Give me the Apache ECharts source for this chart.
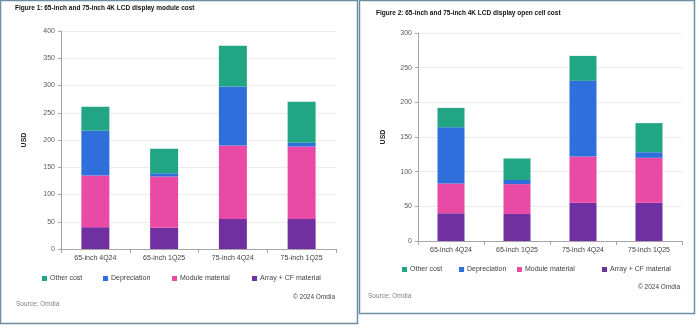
<!DOCTYPE html>
<html><head><meta charset="utf-8">
<script src="https://cdn.jsdelivr.net/npm/echarts@6/dist/echarts.min.js"></script>
<style>html,body{margin:0;padding:0;background:#fff}#c{width:700px;height:332px}</style>
</head><body><div id="c"></div>
<script>
const categories = ['65-inch 4Q24','65-inch 1Q25','75-inch 4Q24','75-inch 1Q25'];
const seriesNames = ['Array + CF material','Module material','Depreciation','Other cost'];
// Figure 1: module cost (USD)
const moduleArray = [40, 39, 55, 55];
const moduleMaterial = [95, 94, 135, 133];
const moduleDepreciation = [82, 6, 108, 7];
const moduleOther = [44, 45, 75, 75];
// Figure 2: open cell cost (USD)
const cellArray = [40, 39, 55, 55];
const cellMaterial = [43, 43, 67, 65];
const cellDepreciation = [81, 6, 109, 8];
const cellOther = [28, 31, 36, 42];
const yTicks1 = [0, 50, 100, 150, 200, 250, 300, 350, 400];
const yTicks2 = [0, 50, 100, 150, 200, 250, 300];

const colors = {'Array + CF material':'#7030a0','Module material':'#e94aa6','Depreciation':'#2f6fdc','Other cost':'#21a584'};
const FONT = 'Liberation Sans, Arial, sans-serif';

const chart = echarts.init(document.getElementById('c'));

function yAxis(gi, ticks, gap){
  return {gridIndex: gi, type:'value', min: ticks[0], max: ticks[ticks.length-1], interval: ticks[1]-ticks[0],
    name:'USD', nameLocation:'middle', nameRotate:90, nameGap: gap,
    nameTextStyle:{fontFamily:FONT, fontSize:7, fontWeight:'bold', color:'#222'},
    axisLine:{show:true, lineStyle:{color:'#a6a6a6', width:1}},
    axisTick:{show:true, length:3, lineStyle:{color:'#a6a6a6'}},
    axisLabel:{fontFamily:FONT, fontSize:7, color:'#595959', margin:6},
    splitLine:{lineStyle:{color:'#ececec', width:1}}};
}
function xAxis(gi){
  return {gridIndex: gi, type:'category', data: categories,
    axisLine:{lineStyle:{color:'#a6a6a6', width:1}},
    axisTick:{show:true, length:4, lineStyle:{color:'#a6a6a6'}},
    axisLabel:{fontFamily:FONT, fontSize:7, color:'#404040', margin:6}};
}
function makeSeries(gi, data, bw){
  return seriesNames.map((n,i)=>({name:n, type:'bar', stack:'s'+gi, xAxisIndex:gi, yAxisIndex:gi,
    barWidth: bw, data: data[i], itemStyle:{color: colors[n]}, emphasis:{disabled:true}}));
}
function legendItem(name, left, top){
  return {data:[name], left:left, top:top, icon:'rect', itemWidth:5, itemHeight:5, itemGap:0, padding:0,
    textStyle:{fontFamily:FONT, fontSize:7, color:'#404040', padding:[0,0,0,-2]}, selectedMode:false};
}
const legendOrder = ['Other cost','Depreciation','Module material','Array + CF material'];
const leg1X = [42, 103, 172, 252];
const leg2X = [402, 459, 517, 602];

chart.setOption({
  animation:false,
  backgroundColor:'#fff',
  title:[
    {text:'Figure 1: 65-inch and 75-inch 4K LCD display module cost', left:10, top:0,
      textStyle:{fontFamily:FONT, fontSize:6.5, fontWeight:'bold', color:'#111'}},
    {text:'Figure 2: 65-inch and 75-inch 4K LCD display open cell cost', left:371, top:5,
      textStyle:{fontFamily:FONT, fontSize:6.5, fontWeight:'bold', color:'#111'}}
  ],
  grid:[
    {left:61, top:31, width:275, height:218},
    {left:418, top:33, width:264, height:208}
  ],
  xAxis:[xAxis(0), xAxis(1)],
  yAxis:[yAxis(0, yTicks1, 33), yAxis(1, yTicks2, 31)],
  legend: legendOrder.map((n,i)=>legendItem(n, leg1X[i], 275))
    .concat(legendOrder.map((n,i)=>legendItem(n, leg2X[i], 266))),
  series: makeSeries(0, [moduleArray, moduleMaterial, moduleDepreciation, moduleOther], 28)
    .concat(makeSeries(1, [cellArray, cellMaterial, cellDepreciation, cellOther], 27)),
  graphic:[
    {type:'rect', shape:{x:0.5, y:0.5, width:357, height:323}, style:{fill:'none', stroke:'#6c8ea3', lineWidth:1.5}, silent:true},
    {type:'rect', shape:{x:359.5, y:0.5, width:335, height:313}, style:{fill:'none', stroke:'#6c8ea3', lineWidth:1.5}, silent:true},
    {type:'text', left:16, top:301, style:{text:'Source: Omdia', font:'6.5px '+FONT, fill:'#7f7f7f'}},
    {type:'text', right:700-335, top:294, style:{text:'© 2024 Omdia', font:'6.5px '+FONT, fill:'#404040'}},
    {type:'text', left:368, top:293, style:{text:'Source: Omdia', font:'6.5px '+FONT, fill:'#7f7f7f'}},
    {type:'text', right:700-680, top:284, style:{text:'© 2024 Omdia', font:'6.5px '+FONT, fill:'#404040'}}
  ]
});
</script></body></html>
